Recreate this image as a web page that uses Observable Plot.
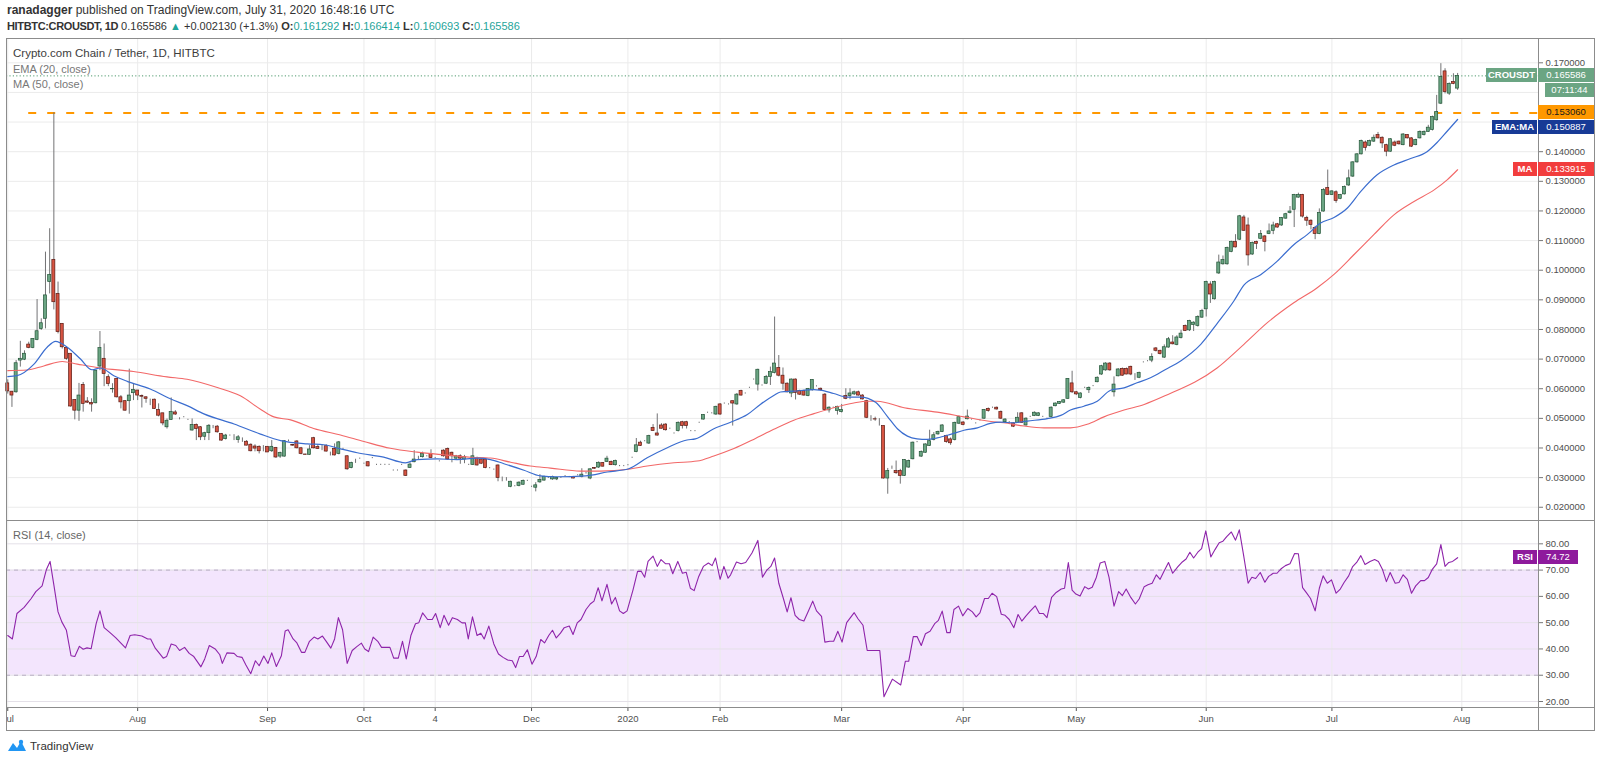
<!DOCTYPE html>
<html><head><meta charset="utf-8">
<script src="https://cdn.jsdelivr.net/npm/d3@7"></script>
<script src="https://cdn.jsdelivr.net/npm/@observablehq/plot@0.6"></script>
<style>
body{margin:0;background:#fff;font-family:"Liberation Sans",Arial,sans-serif;}
#root{position:relative;width:1600px;height:763px;overflow:hidden;background:#fff;}
.abs{position:absolute;white-space:nowrap;}
.ln{position:absolute;background:#8c8c8c;}
.box{position:absolute;color:#fff;font-size:9.5px;line-height:14px;height:14px;text-align:center;white-space:nowrap;}
.t{color:#1fa59a;}
</style></head>
<body><div id="root"></div>
<script>
// ---------------- data ----------------
const tickIdx = [0,31,62,85,102,125,148,170,199,228,255,286,316,347];
const tickLabels = ["Jul","Aug","Sep","Oct","4","Dec","2020","Feb","Mar","Apr","May","Jun","Jul","Aug"];
const priceTicks = [0.02,0.03,0.04,0.05,0.06,0.07,0.08,0.09,0.10,0.11,0.12,0.13,0.14,0.15,0.16,0.17];
const priceLabelTicks = [0.02,0.03,0.04,0.05,0.06,0.07,0.08,0.09,0.10,0.11,0.12,0.13,0.14,0.17];
const rsiTicks = [20,30,40,50,60,70,80];
const rsiBand = [30,70];
const level = 0.15306, levelStart = 5;
const lastClose = 0.165586, emaLast = 0.150887, maLast = 0.133915, rsiLast = 74.72;

const O = [
.0618,.0590,.0588,.0695,.0698,.0749,.0738,.0765,.0802,.0836,
.0960,.1035,.0920,.0819,.0738,.0718,.0562,.0526,.0613,.0557,
.0552,.0551,.0675,.0701,.0639,.0598,.0633,.0571,.0558,.0558,
.0585,.0594,.0575,.0571,.0563,.0563,.0528,.0517,.0470,.0495,
.0520,.0498,.0504,.0495,.0459,.0478,.0470,.0438,.0450,.0470,
.0472,.0447,.0430,.0442,.0436,.0427,.0430,.0421,.0411,.0405,
.0404,.0402,.0404,.0389,.0400,.0371,.0371,.0425,.0410,.0422,
.0399,.0378,.0377,.0433,.0403,.0397,.0406,.0377,.0397,.0380,
.0397,.0372,.0332,.0355,.0364,.0347,.0352,.0366,.0343,.0343,
.0343,.0343,.0324,.0324,.0343,.0324,.0333,.0352,.0366,.0369,
.0372,.0380,.0366,.0355,.0391,.0397,.0384,.0364,.0372,.0361,
.0343,.0343,.0366,.0361,.0361,.0332,.0327,.0341,.0299,.0290,
.0269,.0271,.0272,.0276,.0289,.0269,.0266,.0284,.0290,.0299,
.0294,.0294,.0299,.0305,.0302,.0302,.0308,.0302,.0315,.0297,
.0332,.0334,.0349,.0353,.0353,.0342,.0339,.0339,.0342,.0367,
.0386,.0418,.0423,.0415,.0468,.0449,.0476,.0479,.0465,.0449,
.0457,.0487,.0487,.0457,.0457,.0485,.0496,.0519,.0517,.0513,
.0547,.0550,.0547,.0558,.0547,.0592,.0584,.0603,.0631,.0614,
.0611,.0617,.0640,.0653,.0670,.0644,.0617,.0584,.0631,.0592,
.0592,.0575,.0595,.0608,.0600,.0580,.0527,.0536,.0525,.0521,
.0575,.0575,.0581,.0588,.0577,.0558,.0498,.0497,.0493,.0474,
.0297,.0334,.0322,.0322,.0306,.0334,.0362,.0420,.0371,.0384,
.0407,.0427,.0446,.0454,.0440,.0429,.0427,.0482,.0486,.0497,
.0496,.0483,.0493,.0499,.0532,.0536,.0536,.0521,.0487,.0487,
.0483,.0485,.0517,.0476,.0505,.0508,.0508,.0505,.0499,.0505,
.0541,.0549,.0553,.0566,.0618,.0588,.0569,.0603,.0595,.0609,
.0622,.0648,.0662,.0685,.0588,.0642,.0667,.0667,.0674,.0644,
.0637,.0689,.0693,.0695,.0736,.0728,.0705,.0739,.0756,.0748,
.0771,.0812,.0797,.0815,.0812,.0840,.0868,.0952,.0902,.0989,
.1020,.1020,.1062,.1095,.1103,.1178,.1151,.1053,.1095,.1106,
.1114,.1122,.1133,.1155,.1151,.1174,.1193,.1204,.1245,.1254,
.1176,.1167,.1142,.1122,.1198,.1277,.1254,.1263,.1241,.1256,
.1286,.1316,.1364,.1391,.1431,.1420,.1434,.1456,.1447,.1422,
.1400,.1431,.1434,.1422,.1456,.1445,.1422,.1445,.1456,.1467,
.1473,.1506,.1562,.1671,.1596,.1635,.161292];
const H = [
.0630,.0591,.0695,.0760,.0728,.0757,.0768,.0901,.0836,.1061,
.1140,.1531,.0960,.0819,.0741,.0718,.0562,.0618,.0621,.0570,
.0566,.0661,.0793,.0751,.0647,.0617,.0633,.0577,.0560,.0666,
.0616,.0594,.0579,.0573,.0565,.0565,.0549,.0517,.0498,.0569,
.0526,.0502,.0506,.0497,.0498,.0481,.0472,.0453,.0479,.0476,
.0476,.0449,.0446,.0444,.0445,.0442,.0434,.0425,.0414,.0411,
.0407,.0408,.0404,.0425,.0402,.0386,.0425,.0427,.0412,.0425,
.0402,.0379,.0408,.0436,.0411,.0411,.0411,.0386,.0414,.0422,
.0399,.0374,.0352,.0362,.0366,.0349,.0354,.0368,.0345,.0345,
.0345,.0345,.0326,.0326,.0345,.0326,.0350,.0391,.0372,.0386,
.0374,.0394,.0368,.0357,.0394,.0400,.0386,.0375,.0377,.0375,
.0345,.0399,.0369,.0364,.0364,.0334,.0329,.0343,.0302,.0300,
.0288,.0273,.0286,.0292,.0291,.0271,.0283,.0310,.0305,.0301,
.0305,.0301,.0301,.0307,.0304,.0304,.0310,.0330,.0318,.0330,
.0334,.0353,.0351,.0372,.0356,.0359,.0341,.0341,.0344,.0369,
.0432,.0423,.0425,.0443,.0479,.0515,.0482,.0482,.0467,.0451,
.0488,.0490,.0490,.0459,.0459,.0487,.0513,.0521,.0519,.0541,
.0550,.0552,.0549,.0558,.0584,.0595,.0586,.0605,.0633,.0666,
.0613,.0645,.0673,.0842,.0712,.0670,.0620,.0633,.0633,.0595,
.0595,.0601,.0631,.0610,.0602,.0584,.0539,.0538,.0541,.0547,
.0600,.0600,.0592,.0592,.0580,.0561,.0509,.0504,.0499,.0474,
.0331,.0339,.0356,.0328,.0361,.0359,.0420,.0422,.0390,.0414,
.0460,.0452,.0457,.0479,.0443,.0434,.0487,.0508,.0489,.0528,
.0498,.0485,.0495,.0530,.0535,.0538,.0538,.0525,.0499,.0489,
.0485,.0519,.0519,.0502,.0507,.0522,.0519,.0507,.0501,.0539,
.0552,.0557,.0563,.0633,.0659,.0591,.0586,.0605,.0606,.0611,
.0640,.0679,.0688,.0688,.0640,.0668,.0670,.0670,.0676,.0651,
.0656,.0691,.0695,.0718,.0739,.0730,.0748,.0773,.0779,.0779,
.0797,.0815,.0831,.0826,.0846,.0868,.0963,.0961,.0963,.1051,
.1048,.1078,.1098,.1120,.1185,.1185,.1176,.1095,.1098,.1134,
.1117,.1156,.1162,.1158,.1178,.1192,.1215,.1256,.1260,.1256,
.1182,.1170,.1148,.1207,.1275,.1338,.1268,.1268,.1256,.1284,
.1338,.1366,.1394,.1439,.1436,.1439,.1456,.1465,.1450,.1425,
.1444,.1436,.1436,.1461,.1458,.1447,.1442,.1470,.1470,.1489,
.1520,.1590,.1697,.1680,.1632,.1663,.166414];
const L = [
.0582,.0537,.0585,.0673,.0695,.0735,.0735,.0762,.0797,.0802,
.0920,.0866,.0785,.0734,.0696,.0538,.0495,.0490,.0521,.0550,
.0521,.0549,.0661,.0607,.0607,.0585,.0569,.0532,.0524,.0514,
.0560,.0560,.0535,.0551,.0543,.0530,.0505,.0475,.0464,.0493,
.0510,.0495,.0502,.0493,.0457,.0425,.0425,.0425,.0425,.0465,
.0450,.0423,.0427,.0440,.0425,.0416,.0419,.0407,.0387,.0387,
.0380,.0387,.0385,.0385,.0365,.0365,.0369,.0421,.0406,.0397,
.0377,.0376,.0375,.0397,.0395,.0391,.0386,.0373,.0373,.0377,
.0395,.0325,.0330,.0348,.0362,.0345,.0336,.0364,.0341,.0341,
.0341,.0341,.0322,.0322,.0341,.0304,.0331,.0350,.0358,.0366,
.0370,.0364,.0364,.0353,.0369,.0358,.0350,.0361,.0345,.0347,
.0341,.0341,.0339,.0344,.0330,.0330,.0325,.0286,.0286,.0288,
.0266,.0269,.0269,.0274,.0287,.0267,.0252,.0281,.0288,.0297,
.0291,.0290,.0297,.0303,.0300,.0296,.0306,.0299,.0312,.0293,
.0328,.0331,.0336,.0351,.0341,.0339,.0337,.0337,.0340,.0365,
.0384,.0405,.0421,.0412,.0457,.0440,.0464,.0457,.0463,.0447,
.0454,.0464,.0464,.0455,.0455,.0483,.0494,.0517,.0515,.0510,
.0510,.0548,.0545,.0474,.0544,.0575,.0582,.0601,.0629,.0592,
.0609,.0614,.0611,.0650,.0640,.0595,.0586,.0570,.0562,.0577,
.0575,.0573,.0592,.0606,.0592,.0525,.0518,.0534,.0511,.0518,
.0563,.0563,.0577,.0575,.0562,.0499,.0490,.0490,.0474,.0295,
.0244,.0328,.0311,.0278,.0304,.0332,.0360,.0418,.0368,.0382,
.0405,.0424,.0443,.0452,.0416,.0409,.0424,.0479,.0475,.0495,
.0494,.0481,.0491,.0496,.0521,.0534,.0528,.0496,.0484,.0485,
.0469,.0483,.0483,.0474,.0503,.0506,.0506,.0503,.0497,.0502,
.0539,.0547,.0551,.0564,.0584,.0577,.0566,.0601,.0584,.0607,
.0620,.0645,.0659,.0659,.0572,.0640,.0642,.0647,.0644,.0628,
.0634,.0687,.0691,.0688,.0724,.0714,.0702,.0737,.0748,.0745,
.0768,.0793,.0793,.0793,.0808,.0837,.0842,.0888,.0899,.0986,
.1017,.1017,.1059,.1075,.1100,.1131,.1014,.1050,.1070,.1103,
.1062,.1120,.1120,.1142,.1148,.1172,.1190,.1144,.1243,.1176,
.1148,.1136,.1103,.1120,.1196,.1252,.1252,.1226,.1238,.1254,
.1283,.1313,.1361,.1389,.1402,.1417,.1431,.1443,.1411,.1383,
.1398,.1417,.1422,.1420,.1443,.1414,.1420,.1443,.1453,.1465,
.1470,.1503,.1559,.1595,.1590,.1626,.160693];
const C = [
.0591,.0577,.0686,.0701,.0718,.0738,.0768,.0794,.0821,.0915,
.0984,.0892,.0791,.0740,.0701,.0540,.0526,.0577,.0549,.0553,
.0547,.0661,.0737,.0650,.0616,.0599,.0571,.0554,.0526,.0577,
.0596,.0577,.0573,.0566,.0563,.0532,.0509,.0483,.0492,.0521,
.0513,.0498,.0504,.0495,.0478,.0464,.0436,.0450,.0475,.0470,
.0453,.0425,.0442,.0442,.0436,.0436,.0430,.0408,.0389,.0398,
.0389,.0402,.0385,.0404,.0368,.0383,.0423,.0425,.0408,.0399,
.0380,.0377,.0395,.0399,.0397,.0397,.0388,.0377,.0375,.0419,
.0397,.0328,.0349,.0355,.0364,.0347,.0338,.0366,.0343,.0343,
.0343,.0343,.0324,.0324,.0343,.0306,.0344,.0361,.0366,.0380,
.0372,.0366,.0366,.0355,.0372,.0361,.0372,.0372,.0364,.0369,
.0343,.0372,.0341,.0347,.0332,.0332,.0327,.0299,.0299,.0290,
.0286,.0271,.0283,.0289,.0289,.0269,.0274,.0292,.0302,.0299,
.0302,.0299,.0299,.0305,.0302,.0297,.0308,.0310,.0315,.0328,
.0330,.0350,.0337,.0364,.0342,.0356,.0339,.0339,.0342,.0367,
.0409,.0407,.0423,.0440,.0457,.0442,.0465,.0460,.0465,.0449,
.0485,.0474,.0474,.0457,.0457,.0485,.0511,.0519,.0517,.0539,
.0513,.0550,.0547,.0550,.0580,.0577,.0584,.0603,.0631,.0664,
.0611,.0640,.0656,.0685,.0644,.0617,.0588,.0631,.0586,.0580,
.0577,.0599,.0629,.0608,.0595,.0528,.0536,.0536,.0539,.0528,
.0566,.0584,.0588,.0577,.0564,.0502,.0498,.0496,.0493,.0297,
.0322,.0334,.0315,.0306,.0359,.0356,.0418,.0420,.0387,.0412,
.0423,.0443,.0454,.0476,.0420,.0416,.0485,.0504,.0478,.0506,
.0496,.0483,.0493,.0528,.0525,.0536,.0530,.0499,.0496,.0487,
.0472,.0502,.0485,.0499,.0505,.0519,.0517,.0505,.0499,.0536,
.0550,.0555,.0561,.0633,.0588,.0581,.0584,.0603,.0603,.0609,
.0637,.0676,.0685,.0662,.0614,.0665,.0644,.0648,.0648,.0644,
.0653,.0689,.0693,.0707,.0728,.0717,.0740,.0767,.0750,.0773,
.0786,.0795,.0829,.0823,.0842,.0862,.0960,.0918,.0960,.1026,
.1034,.1075,.1095,.1077,.1182,.1133,.1050,.1092,.1089,.1122,
.1095,.1131,.1151,.1144,.1176,.1189,.1198,.1254,.1254,.1181,
.1167,.1153,.1122,.1193,.1271,.1254,.1266,.1234,.1254,.1281,
.1310,.1364,.1391,.1436,.1413,.1436,.1447,.1445,.1428,.1400,
.1442,.1420,.1425,.1458,.1445,.1417,.1439,.1467,.1467,.1481,
.1517,.1534,.1652,.1601,.1629,.1629,.165586];

const emaIdx = [0,2.2,6.2,9.4,11.4,14.2,17.3,20.1,22.1,25.3,28.5,34,38.8,42.8,46.8,54,60.3,65.1,71.5,75.4,
79.4,83.4,89.7,94.9,97.7,102.5,107.2,112,115.2,118.4,123.2,127.1,131.1,137.9,143.1,148.2,152.6,157.4,162.1,164.1,
168.5,172.5,176.5,179.6,182.8,184.4,187.6,192.4,193.9,197.1,200.3,203.5,207.1,209.9,212.3,214.7,217,219.4,221.8,225,
228.2,231.4,234.5,236.9,240.1,243.3,248.1,251.3,253.6,256.8,260,263.2,266.4,269.5,272.7,276.3,279.9,284.7,288.6,292.6,
295,299,302.9,306.9,310.1,313.3,316.5,319.7,322.9,326.8,330.8,334.8,338.7,341.1,343.5,346];
const emaVal = [.0641,.0644,.0682,.0740,.0760,.0740,.0701,.0664,.0670,.0644,.0625,.0599,.0566,.0543,.0515,.0481,.0447,.0425,.0414,.0411,
.0397,.0384,.0369,.0350,.0361,.0363,.0361,.0366,.0361,.0347,.0325,.0306,.0303,.0306,.0319,.0330,.0367,.0401,.0427,.0431,
.0465,.0487,.0513,.0547,.0577,.0589,.0592,.0597,.0595,.0584,.0572,.0572,.0554,.0507,.0465,.0440,.0431,.0429,.0434,.0446,
.0460,.0468,.0483,.0487,.0485,.0491,.0499,.0510,.0528,.0541,.0558,.0595,.0603,.0620,.0637,.0665,.0694,.0750,.0820,.0896,
.0950,.0985,.1030,.1086,.1120,.1159,.1178,.1210,.1266,.1322,.1355,.1377,.1400,.1431,.1469,.150887];
const maIdx = [0,4.6,8.6,13,16.6,22.1,30,38,42.8,50,55.5,60.3,63.5,67.5,73,79.4,85,91.3,97.7,104,
110.4,115.2,120,124.7,129.5,136.7,141.5,148.1,152.6,159,164.5,168.5,173.3,178,182.8,187.6,192.4,197.1,201.9,205.1,
207.5,213.9,221.8,228.2,233.8,237.7,242.5,247.3,253.6,257.6,261.6,266.4,271.2,276.3,288.6,295,300.6,306.9,312.5,316.5,
321.3,326,330.8,335.6,340.4,343.5,346];
const maVal = [.0661,.0663,.0677,.0692,.0683,.0670,.0658,.0640,.0632,.0604,.0576,.0531,.0505,.0495,.0466,.0444,.0422,.0399,.0386,.0377,
.0369,.0366,.0352,.0339,.0332,.0322,.0322,.0328,.0339,.0350,.0356,.0373,.0398,.0429,.0463,.0494,.0516,.0536,.0552,.0558,
.0558,.0536,.0521,.0505,.0491,.0485,.0474,.0468,.0468,.0480,.0505,.0528,.0547,.0577,.0670,.0750,.0823,.0890,.0941,.0986,
.1053,.1120,.1187,.1232,.1271,.1305,.133915];

const rsiIdx = [0,1.1,2.2,3.9,5.6,6.7,8.2,9.2,10.1,11.0,12.0,12.9,14.0,15.1,16.0,17.1,18.0,18.9,19.9,21.1,
22.0,23.0,24.4,25.8,27.0,28.1,29.2,30.3,32.0,33.4,34.1,35.2,36.3,37.1,37.9,39.0,40.1,41.0,42.2,43.3,
44.4,46.1,47.0,48.1,49.5,50.6,51.2,52.3,54.0,54.8,55.9,56.8,58.0,59.1,60.0,61.1,62.1,63.0,64.1,65.3,
66.2,66.9,68.1,69.0,70.1,70.9,72.0,73.1,74.0,75.1,76.0,77.1,78.0,78.9,79.9,81.0,82.2,83.3,84.4,85.2,
86.1,87.2,88.3,89.2,90.0,91.2,92.1,93.2,94.2,95.1,96.2,97.3,98.1,99.0,100.2,101.3,102.1,103.2,104.1,105.2,
106.1,107.3,108.4,109.2,109.9,110.9,112.0,112.9,113.7,114.8,116.0,117.1,118.2,119.3,120.4,121.2,122.1,123.0,124.0,125.1,
126.1,127.2,128.1,129.1,130.0,130.9,131.9,132.8,134.0,134.9,135.9,136.8,138.0,139.0,139.9,140.9,141.8,143.0,144.1,145.0,
146.0,146.9,147.8,149.2,150.3,151.2,152.0,152.8,154.0,155.0,155.9,157.0,157.9,158.7,159.9,161.0,161.9,162.9,163.8,164.9,
166.0,167.2,168.1,168.9,170.0,170.9,171.9,
172.5,173.9,175.0,176.1,177.6,179.0,180.1,181.2,182.1,183.0,184.0,185.1,186.0,186.9,187.9,188.9,190.0,191.1,192.1,193.0,
194.2,195.0,196.2,197.1,198.1,199.1,200.2,202.0,202.9,204.1,205.1,206.1,207.2,208.1,209.1,211.1,213.1,214.2,215.0,216.1,
217.0,218.0,219.0,220.1,221.2,222.1,223.0,224.1,224.9,225.8,226.9,227.9,229.1,230.2,231.1,232.0,233.1,234.0,234.9,236.0,
237.1,238.0,239.0,240.1,241.1,242.0,243.0,244.0,245.2,246.2,247.1,248.0,249.1,250.2,251.4,252.2,253.1,254.0,254.9,255.9,
257.0,257.9,258.8,259.8,260.7,261.8,262.8,264.0,265.1,266.0,266.9,268.0,269.1,270.0,271.2,272.1,273.1,274.1,275.0,275.9,
277.0,278.0,279.2,280.3,281.2,282.1,283.0,284.0,284.9,285.9,287.1,288.1,289.1,290.0,290.9,292.0,293.0,293.9,294.9,296.0,
296.9,297.8,298.9,300.0,300.9,302.0,302.9,303.8,304.9,306.0,307.1,308.0,309.0,309.9,310.9,312.0,313.0,313.9,314.9,315.9,
317.0,318.0,318.9,320.0,320.9,321.9,322.9,323.9,325.1,326.2,327.1,328.1,329.0,329.9,331.1,332.0,333.0,334.0,335.0,336.0,
337.2,338.1,339.0,340.0,341.0,342.0,343.0,343.9,344.8,346.0];
const rsiVal = [45.1,43.8,53.5,55.8,59.2,61.8,64.0,70.1,73.3,64.4,54.1,50.3,47.1,37.4,37.1,41.0,39.9,40.4,40.1,49.6,
54.5,48.1,46.2,44.2,42.2,40.4,45.1,45.4,44.9,43.8,43.8,40.3,38.1,36.5,37.1,41.9,41.3,39.4,40.6,38.3,
37.1,33.2,36.2,41.3,40.0,37.8,34.5,38.5,38.3,37.1,36.8,34.0,30.6,35.5,33.6,37.3,34.5,38.5,33.3,37.4,
46.8,47.3,43.8,42.3,38.7,38.7,42.9,44.5,43.8,44.9,42.9,40.3,43.8,51.9,47.3,34.5,39.4,40.9,42.2,40.0,
39.0,44.5,42.9,40.6,40.6,40.6,36.5,36.5,42.9,36.2,45.1,49.6,50.0,53.7,51.2,51.2,53.5,48.1,52.8,49.0,
51.9,51.2,49.9,49.9,43.8,52.2,45.1,46.0,43.8,48.7,41.9,38.1,36.8,35.8,35.5,32.9,37.1,37.1,39.7,34.2,
37.1,43.6,42.3,45.1,47.1,44.2,46.0,48.1,48.7,45.5,49.9,51.2,55.0,57.1,58.2,63.3,58.3,64.6,57.1,59.6,
54.5,53.5,54.5,62.4,69.5,69.5,67.3,73.3,75.3,71.4,74.0,72.4,72.4,68.6,73.3,68.8,69.2,63.1,62.2,67.6,
71.4,72.7,71.7,74.6,66.5,71.4,66.9,
68.2,73.1,72.4,72.9,76.5,81.3,67.3,70.1,71.4,74.6,65.0,59.2,54.1,59.5,52.8,51.2,50.6,54.5,58.2,54.5,
52.4,42.6,42.9,42.9,46.7,42.6,50.0,53.8,51.5,49.0,39.4,39.4,39.4,39.4,21.8,28.5,26.3,35.3,35.3,44.7,
44.7,41.3,45.8,46.7,49.6,50.9,54.4,46.2,46.2,55.0,56.3,52.6,55.4,54.1,52.2,53.7,59.2,59.2,61.2,59.9,
53.2,52.8,51.2,48.1,53.1,50.6,52.6,54.4,56.4,53.5,53.5,51.9,59.6,61.5,62.8,63.1,72.9,62.4,60.9,60.1,
63.7,62.8,63.5,67.3,72.7,73.3,67.3,56.3,61.8,60.3,62.8,59.6,57.1,59.0,63.7,64.4,65.0,68.2,66.5,69.5,
72.9,68.8,71.2,73.1,74.2,76.8,74.6,76.8,78.2,84.9,75.0,77.8,80.4,81.0,82.7,84.5,81.4,85.3,75.9,65.0,
67.3,66.8,69.1,65.4,67.6,68.8,68.8,70.4,71.7,72.4,76.3,76.2,63.3,61.4,59.2,54.5,63.1,67.8,65.0,66.3,
61.2,62.8,65.3,67.8,71.2,72.9,75.5,72.1,73.3,74.0,73.3,70.1,65.6,69.1,65.0,65.3,68.2,66.5,61.2,64.0,
66.0,66.0,67.2,70.4,72.4,79.7,71.4,72.9,73.3,74.72];

// ---------------- build ----------------
const FONT = "'Liberation Sans', Arial, sans-serif";
const W = 1600, xDom = [-0.3, 365.3];
const UP = "#6ba583", UPB = "#225437", DN = "#d75442", DNB = "#5b1a13", WICK = "#737375";
const GRID = "#ebebeb", AXC = "#4f4f4f";

const bars = C.map((c, i) => ({i, o: O[i], h: Math.max(H[i], O[i], c), l: Math.min(L[i], O[i], c), c}));
const ema = emaIdx.map((i, k) => ({i, v: emaVal[k]}));
const ma = maIdx.map((i, k) => ({i, v: maVal[k]}));
const n = Math.min(rsiIdx.length, rsiVal.length);
const rsi = rsiIdx.slice(0, n).map((i, k) => ({i, v: rsiVal[k]}));

const root = document.getElementById("root");
function add(html, css, cls) {
  const d = document.createElement("div");
  d.className = cls || "abs";
  d.innerHTML = html;
  Object.assign(d.style, css);
  root.appendChild(d);
  return d;
}

const priceChart = Plot.plot({
  width: W, height: 482, marginLeft: 6, marginRight: 62, marginTop: 0, marginBottom: 0,
  style: {background: "transparent", fontFamily: FONT, fontSize: "9.5px", overflow: "visible"},
  x: {domain: xDom, axis: null},
  y: {domain: [0.01553, 0.1782], axis: null},
  marks: [
    Plot.gridX(tickIdx, {stroke: GRID, strokeOpacity: 1}),
    Plot.gridY(priceTicks, {stroke: GRID, strokeOpacity: 1}),
    Plot.ruleY([lastClose], {stroke: "#4f9a6e", strokeDasharray: "1.2,2.2"}),
    Plot.ruleY([level], {x1: () => levelStart, x2: () => xDom[1], stroke: "#ff9800", strokeWidth: 2, strokeDasharray: "8,11"}),
    Plot.ruleX(bars, {x: "i", y1: "l", y2: "h", stroke: WICK, strokeWidth: 1}),
    Plot.rect(bars, {x1: d => d.i - 0.36, x2: d => d.i + 0.36, y1: "o", y2: "c",
      fill: d => d.c >= d.o ? UP : DN, stroke: d => d.c >= d.o ? UPB : DNB, strokeWidth: 0.7}),
    Plot.line(ma, {x: "i", y: "v", stroke: "#f26868", strokeWidth: 1.1, curve: "monotone-x"}),
    Plot.line(ema, {x: "i", y: "v", stroke: "#3b6dcf", strokeWidth: 1.2, curve: "monotone-x"}),
    Plot.axisY({ticks: priceLabelTicks, anchor: "right", tickFormat: d3.format(".6f"), tickSize: 4, tickPadding: 3,
      label: null, fontSize: 9.5, fill: AXC, stroke: "#777"})
  ]
});
const rsiChart = Plot.plot({
  width: W, height: 210, marginLeft: 6, marginRight: 62, marginTop: 0, marginBottom: 23,
  style: {background: "transparent", fontFamily: FONT, fontSize: "9.5px", overflow: "visible"},
  x: {domain: xDom, axis: null},
  y: {domain: [17.72, 88.87], axis: null},
  marks: [
    Plot.rect([rsiBand], {x1: () => xDom[0], x2: () => xDom[1], y1: d => d[0], y2: d => d[1], fill: "#f3e5fd"}),
    Plot.gridX(tickIdx, {stroke: GRID, strokeOpacity: 1}),
    Plot.gridY(rsiTicks, {stroke: "#e4e0e8", strokeOpacity: 1}),
    Plot.ruleY(rsiBand, {stroke: "#b8adc4", strokeDasharray: "4,4"}),
    Plot.line(rsi, {x: "i", y: "v", stroke: "#8e24aa", strokeWidth: 1.1}),
    Plot.axisY({ticks: rsiTicks, anchor: "right", tickFormat: d3.format(".2f"), tickSize: 4, tickPadding: 3,
      label: null, fontSize: 9.5, fill: AXC, stroke: "#777"}),
    Plot.axisX({ticks: tickIdx, anchor: "bottom", tickFormat: d => tickLabels[tickIdx.indexOf(d)], tickSize: 4,
      tickPadding: 4, label: null, fontSize: 9.5, fill: AXC, stroke: "#555"})
  ]
});
const pw = document.createElement("div"); pw.className = "abs"; pw.style.left = "0px"; pw.style.top = "38px";
pw.appendChild(priceChart); root.appendChild(pw);
const rw = document.createElement("div"); rw.className = "abs"; rw.style.left = "0px"; rw.style.top = "520px";
rw.appendChild(rsiChart); root.appendChild(rw);

// cover left of frame in axis row (first label is clipped by the frame)
add("", {left: "0px", top: "708px", width: "6px", height: "22px", background: "#fff"});

// frame lines
add("", {left: "6px", top: "38px", width: "1589px", height: "1px"}, "ln");
add("", {left: "6px", top: "730px", width: "1589px", height: "1px"}, "ln");
add("", {left: "6px", top: "38px", width: "1px", height: "693px"}, "ln");
add("", {left: "1594px", top: "38px", width: "1px", height: "693px"}, "ln");
add("", {left: "6px", top: "520px", width: "1589px", height: "1px"}, "ln");
add("", {left: "6px", top: "707px", width: "1589px", height: "1px"}, "ln");
add("", {left: "1538px", top: "38px", width: "1px", height: "693px"}, "ln");

// header
add('<b>ranadagger</b> published on TradingView.com, July 31, 2020 16:48:16 UTC',
  {left: "7px", top: "3px", fontSize: "12px", color: "#333"});
add('<b style="letter-spacing:-0.35px">HITBTC:CROUSDT, 1D</b> 0.165586 <span class="t">▲</span> +0.002130 (+1.3%) <b>O:</b><span class="t">0.161292</span> <b>H:</b><span class="t">0.166414</span> <b>L:</b><span class="t">0.160693</span> <b>C:</b><span class="t">0.165586</span>',
  {left: "7px", top: "20px", fontSize: "11px", color: "#333"});
// legends
add("Crypto.com Chain / Tether, 1D, HITBTC", {left: "13px", top: "47px", fontSize: "11.5px", color: "#3d3d3d"});
add("EMA (20, close)", {left: "13px", top: "63px", fontSize: "11px", color: "#777"});
add("MA (50, close)", {left: "13px", top: "78px", fontSize: "11px", color: "#777"});
add("RSI (14, close)", {left: "13px", top: "529px", fontSize: "11px", color: "#666"});

// right-side labels
const ys = priceChart.scale("y"), ry = rsiChart.scale("y");
function box(x1, x2, yc, bg, text, extra) {
  return add(text, Object.assign({left: x1 + "px", width: (x2 - x1) + "px", top: (yc - 7) + "px", background: bg}, extra || {}), "box");
}
const yLast = 38 + ys.apply(lastClose);
box(1486, 1537, yLast, UP, "<b>CROUSDT</b>");
box(1538, 1594, yLast, UP, "0.165586");
box(1545, 1594, yLast + 15, UP, "07:11:44");
const yLev = 38 + ys.apply(level);
box(1538, 1594, yLev, "#ff9800", "0.153060", {color: "#1a1a1a"});
const yEma = Math.max(38 + ys.apply(emaLast), yLev + 15);
box(1492, 1537, yEma, "#173a96", "<b>EMA:MA</b>");
box(1538, 1594, yEma, "#173a96", "0.150887");
const yMa = 38 + ys.apply(maLast);
box(1513, 1537, yMa, "#f23d3d", "<b>MA</b>");
box(1538, 1594, yMa, "#f23d3d", "0.133915");
const yR = 520 + ry.apply(rsiLast);
box(1513, 1537, yR, "#8e1a9c", "<b>RSI</b>");
box(1538, 1578, yR, "#8e1a9c", "74.72");

// bottom logo
add('<svg width="20" height="14" viewBox="0 0 20 14"><path d="M1 12 L6 4 L10 9 L14 2 L19 12 Z" fill="#2196f3"/><circle cx="14" cy="3" r="2.2" fill="#2196f3"/></svg>',
  {left: "7px", top: "739px"});
add("TradingView", {left: "30px", top: "740px", fontSize: "11.5px", color: "#333"});
</script>
</body></html>
